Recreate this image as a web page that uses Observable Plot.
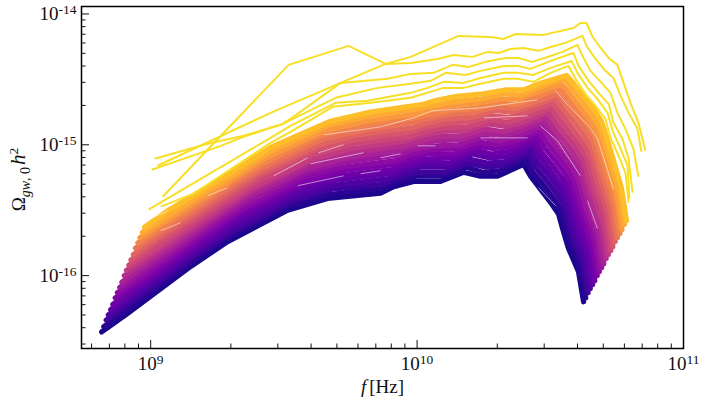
<!DOCTYPE html>
<html><head><meta charset="utf-8">
<style>html,body{margin:0;padding:0;background:#fff}svg{display:block}</style>
<script src="https://cdn.jsdelivr.net/npm/d3@7"></script>
<script src="https://cdn.jsdelivr.net/npm/@observablehq/plot@0.6"></script>
</head><body><div id="chart"></div>
<script>
// Frequency exponents of the lowest curve in the dense band
const bandFreqExp = [8.816,8.906,9.038,9.150,9.289,9.514,9.664,9.863,9.912,9.987,10.088,10.174,10.238,10.302,10.400,10.426,10.463,10.501,10.531,10.546,10.568,10.606,10.625];
// Shift of each band curve along log10 f
const bandShift = [0,.008,.017,.025,.034,.042,.051,.059,.068,.076,.085,.093,.102,.110,.119,.127,.136,.144,.153,.161];
// Colour position of each band curve
const bandTone = [.02,.05,.09,.13,.17,.21,.25,.29,.33,.37,.41,.46,.50,.55,.60,.65,.70,.76,.81,.86];
// Decades below 1e-15 for each band curve
const bandDecades = [
[1.43,1.30,1.10,.93,.74,.50,.41,.37,.32,.28,.28,.21,.24,.24,.15,.24,.34,.44,.53,.64,.79,.97,1.20],
[1.39,1.26,1.06,.89,.70,.47,.38,.33,.29,.24,.24,.17,.21,.20,.11,.21,.30,.40,.49,.60,.76,.94,1.17],
[1.34,1.21,1.02,.85,.67,.43,.34,.30,.25,.21,.21,.14,.17,.16,.07,.17,.26,.36,.45,.56,.72,.90,1.13],
[1.30,1.17,.98,.82,.63,.40,.31,.26,.22,.17,.17,.11,.14,.13,.04,.13,.22,.32,.42,.53,.68,.87,1.10],
[1.26,1.13,.94,.78,.59,.36,.27,.22,.18,.14,.14,.07,.10,.09,.00,.09,.19,.29,.38,.49,.64,.83,1.07],
[1.22,1.09,.90,.74,.55,.32,.24,.19,.15,.11,.10,.04,.07,.05,-.03,.06,.15,.25,.34,.45,.60,.80,1.04],
[1.17,1.05,.86,.70,.51,.29,.20,.15,.11,.07,.07,.01,.03,.01,-.07,.02,.11,.21,.31,.41,.56,.77,1.00],
[1.13,1.01,.82,.66,.48,.25,.17,.12,.08,.04,.03,-.02,.00,-.02,-.11,-.02,.07,.17,.27,.37,.52,.73,.97],
[1.09,.96,.78,.62,.44,.21,.13,.08,.04,.01,.00,-.06,-.03,-.06,-.14,-.06,.04,.14,.23,.33,.49,.70,.94],
[1.05,.92,.74,.58,.40,.18,.10,.04,.01,-.03,-.04,-.09,-.07,-.10,-.18,-.10,.00,.10,.19,.29,.45,.67,.91],
[1.00,.88,.70,.55,.36,.14,.06,.01,-.02,-.06,-.07,-.12,-.10,-.14,-.21,-.13,-.04,.06,.16,.26,.41,.63,.87],
[.96,.84,.66,.51,.33,.11,.03,-.03,-.06,-.10,-.11,-.16,-.14,-.17,-.25,-.17,-.08,.02,.12,.22,.37,.60,.84],
[.92,.80,.62,.47,.29,.07,-.01,-.06,-.09,-.13,-.14,-.19,-.17,-.21,-.28,-.21,-.11,-.01,.08,.18,.33,.56,.81],
[.88,.75,.58,.43,.25,.03,-.04,-.10,-.13,-.16,-.18,-.22,-.21,-.25,-.32,-.25,-.15,-.05,.05,.14,.29,.53,.78],
[.84,.71,.54,.39,.21,.00,-.08,-.13,-.16,-.20,-.21,-.26,-.25,-.29,-.36,-.28,-.19,-.09,.01,.10,.25,.50,.74],
[.79,.67,.50,.35,.18,-.04,-.11,-.17,-.20,-.23,-.25,-.29,-.28,-.32,-.39,-.32,-.23,-.13,-.03,.06,.22,.46,.71],
[.75,.63,.46,.31,.14,-.08,-.15,-.21,-.23,-.26,-.28,-.32,-.31,-.36,-.43,-.36,-.26,-.16,-.07,.02,.18,.43,.68],
[.71,.59,.42,.28,.10,-.11,-.18,-.24,-.27,-.30,-.32,-.35,-.35,-.40,-.46,-.40,-.30,-.20,-.10,-.02,.14,.40,.65],
[.67,.55,.38,.24,.06,-.15,-.22,-.28,-.30,-.33,-.35,-.39,-.38,-.44,-.50,-.44,-.34,-.24,-.14,-.05,.10,.36,.61],
[.63,.50,.34,.20,.02,-.18,-.25,-.31,-.34,-.37,-.39,-.42,-.42,-.47,-.53,-.47,-.37,-.28,-.18,-.09,.06,.33,.58]
];
// Separate yellow curves above the band: f exponent minus 9, decades below 1e-15
const yellowFreq = [
[.045,.518,.743,.882,.976,1.156,1.276,1.325,1.370,1.475,1.587,1.613,1.636,1.659,1.689,1.719,1.752,1.775,1.801,1.831,1.857],
[.026,.450,.713,.882,.976,1.077,1.137,1.208,1.265,1.306,1.351,1.400,1.456,1.501,1.557,1.621,1.636,1.670,1.707,1.737,1.764,1.794,1.827,1.842],
[.015,.214,.349,.450,.488,.525,.713,.889,.976,1.062,1.133,1.193,1.257,1.332,1.381,1.433,1.501,1.546,1.602,1.621,1.651,1.696,1.726,1.752,1.782,1.812,1.831],
[.004,.263,.338,.450,.488,.694,.852,.976,1.051,1.107,1.182,1.238,1.325,1.377,1.426,1.501,1.587,1.606,1.644,1.681,1.719,1.737,1.771,1.794,1.809],
[-.008,.450,.525,.694,.814,.976,1.039,1.099,1.174,1.238,1.325,1.377,1.437,1.501,1.580,1.602,1.640,1.677,1.715,1.734,1.764,1.790,1.797],
[.038,.161,.450,.525,.683,.826,.976,1.099,1.174,1.238,1.325,1.377,1.437,1.501,1.568,1.595,1.632,1.670,1.707,1.726,1.756,1.782,1.794]
];
const yellowDecades = [
[.397,-.611,-.756,-.618,-.672,-.832,-.824,-.809,-.847,-.840,-.893,-.931,-.931,-.824,-.740,-.664,-.611,-.473,-.321,-.168,.046],
[.160,-.244,-.473,-.618,-.626,-.656,-.687,-.672,-.710,-.702,-.733,-.740,-.718,-.748,-.779,-.832,-.756,-.656,-.565,-.511,-.374,-.244,-.122,.053],
[.107,-.008,-.069,-.130,-.153,-.198,-.473,-.504,-.542,-.550,-.611,-.595,-.634,-.664,-.664,-.634,-.679,-.710,-.763,-.679,-.565,-.466,-.397,-.244,-.122,.031,.244],
[.191,.008,-.053,-.130,-.153,-.359,-.435,-.466,-.489,-.550,-.534,-.565,-.603,-.603,-.580,-.641,-.702,-.603,-.489,-.397,-.313,-.168,-.046,.107,.366],
[.496,-.053,-.145,-.321,-.336,-.397,-.435,-.481,-.473,-.511,-.550,-.550,-.534,-.588,-.641,-.550,-.435,-.351,-.244,-.107,.031,.160,.412],
[.473,.374,-.015,-.099,-.290,-.321,-.359,-.435,-.435,-.466,-.504,-.504,-.481,-.550,-.603,-.504,-.389,-.298,-.198,-.053,.084,.214,.443]
];
const yellowTone = .94;
// Pale hairline gaps seen between neighbouring curves: same units as the yellow curves
const gapFreq = [[.649,.863,.987,1.058,1.238,1.452],[1.520,1.568,1.644,1.677,1.737],[.462,.589],[.630,.724],[.600,.799],[.552,.724],[.788,.863],[1.002,1.069],[.863,.938],[1.238,1.415],[1.250,1.415],[1.463,1.527,1.613],[1.456,1.520],[1.640,1.677],[0,.064],[.214,.289],[.038,.113]];
const gapDecades = [[-.076,-.137,-.206,-.260,-.282,-.344],[-.412,-.298,-.145,-.046,.336],[.237,.099],[.061,0],[.145,.061],[.313,.237],[.221,.198],[.008,.008],[.099,.069],[-.053,-.053],[-.206,-.221],[-.145,-.031,.237],[.328,.466],[.427,.641],[.565,.504],[.389,.328],[.656,.595]];
const xMajor = [1e9,1e10,1e11];
const yMajor = [1e-16,1e-15,1e-14];
const xMinor = [6e8,7e8,8e8,9e8,2e9,3e9,4e9,5e9,6e9,7e9,8e9,9e9,2e10,3e10,4e10,5e10,6e10,7e10,8e10,9e10];
const yMinor = [3e-17,4e-17,5e-17,6e-17,7e-17,8e-17,9e-17,2e-16,3e-16,4e-16,5e-16,6e-16,7e-16,8e-16,9e-16,2e-15,3e-15,4e-15,5e-15,6e-15,7e-15,8e-15,9e-15];

const bandRows = bandDecades.flatMap((curve,k)=>curve.map((d,i)=>({
  id:"b"+k, f:Math.pow(10,bandFreqExp[i]+bandShift[k]), omega:Math.pow(10,-15-d), tone:bandTone[k]})));
const yellowRows = yellowDecades.flatMap((curve,k)=>curve.map((d,i)=>({
  id:"y"+k, f:Math.pow(10,9+yellowFreq[k][i]), omega:Math.pow(10,-15-d), tone:yellowTone})));
const gapRows = gapDecades.flatMap((curve,k)=>curve.map((d,i)=>({
  id:"g"+k, f:Math.pow(10,9+gapFreq[k][i]), omega:Math.pow(10,-15-d)})));

const W=708,H=404,mL=81,mR=25,mT=6,mB=56;
const plot = Plot.plot({
  width:W,height:H,marginLeft:mL,marginRight:mR,marginTop:mT,marginBottom:mB,
  style:{background:"#fff",color:"#111"},
  x:{type:"log",domain:[5.5e8,1e11]},
  y:{type:"log",domain:[Math.pow(10,-16.557),Math.pow(10,-13.943)]},
  color:{scheme:"plasma",domain:[0,1]},
  marks:[
    Plot.line(bandRows,{x:"f",y:"omega",z:"id",stroke:"tone",strokeWidth:5.2,strokeLinecap:"round",strokeLinejoin:"round"}),
    Plot.line(gapRows,{x:"f",y:"omega",z:"id",stroke:"#fff",strokeWidth:.9,strokeOpacity:.6,strokeLinecap:"butt"}),
    Plot.line(yellowRows,{x:"f",y:"omega",z:"id",stroke:"tone",strokeWidth:2,strokeLinecap:"butt",strokeLinejoin:"round"}),
    Plot.tickX(xMinor,{x:d=>d,stroke:"#111",strokeWidth:1,insetTop:H-mT-mB-4.5}),
    Plot.tickX(xMajor,{x:d=>d,stroke:"#111",strokeWidth:1,insetTop:H-mT-mB-8}),
    Plot.tickY(yMinor,{y:d=>d,stroke:"#111",strokeWidth:1,insetRight:W-mL-mR-4.5}),
    Plot.tickY(yMajor,{y:d=>d,stroke:"#111",strokeWidth:1,insetRight:W-mL-mR-8}),
    Plot.axisX(xMajor,{anchor:"bottom",tickSize:0,tickPadding:8,label:null,tickFormat:d=>"10^"+Math.round(Math.log10(d))}),
    Plot.axisY(yMajor,{anchor:"left",tickSize:0,tickPadding:5,label:null,tickFormat:d=>"10^"+Math.round(Math.log10(d))}),
    Plot.text(["f [Hz]"],{frameAnchor:"bottom",dy:44,text:d=>d}),
    Plot.text(["omega label"],{frameAnchor:"left",textAnchor:"middle",rotate:-90,dx:-63,dy:2,text:d=>d}),
    Plot.frame({stroke:"#000",strokeWidth:1.5})
  ]
});
document.getElementById("chart").appendChild(plot);
const SUP='font-size="13.5" dy="-6"';
d3.select(plot).selectAll("text").each(function(){
  const t=this.textContent.trim();
  this.style.fontFamily="'Liberation Serif'";
  this.style.fontSize="19px";
  this.style.fontVariant="normal";
  if(t.startsWith("10^")){ this.innerHTML='10<tspan '+SUP+'>'+t.slice(3).replace("\u2212","-")+'</tspan>'; }
  else if(t==="f [Hz]"){ this.innerHTML='<tspan font-style="italic">f</tspan><tspan dx="3">[Hz]</tspan>'; }
  else if(t==="omega label"){ this.innerHTML='Ω<tspan font-size="14" dy="5" font-style="italic">gw</tspan><tspan font-size="14">, 0</tspan><tspan dy="-5" dx="2" font-style="italic" font-size="21">h</tspan><tspan font-size="13.5" dy="-7">2</tspan>'; }
});
</script></body></html>
